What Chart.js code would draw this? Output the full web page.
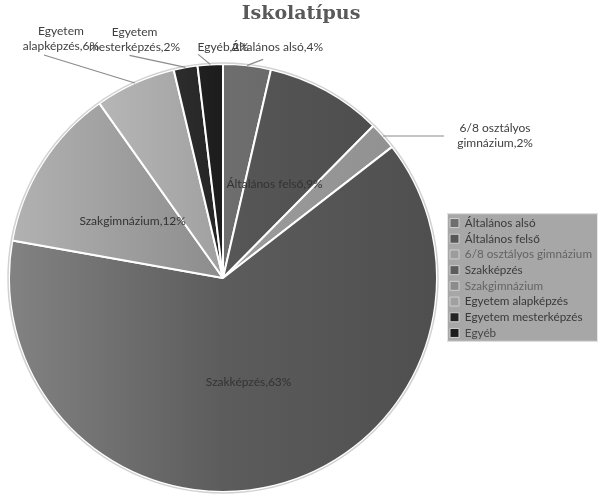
<!DOCTYPE html>
<html>
<head>
<meta charset="utf-8">
<script src="https://cdn.jsdelivr.net/npm/chart.js@4.4.1/dist/chart.umd.min.js"></script>
<style>
  html, body { margin: 0; padding: 0; background: #fff; }
</style>
</head>
<body>
<canvas id="chart" width="598" height="494"></canvas>
<script>
// data (share of pupils, %)
const categories = ['Általános alsó', 'Általános felső', '6/8 osztályos gimnázium', 'Szakképzés', 'Szakgimnázium', 'Egyetem alapképzés', 'Egyetem mesterképzés', 'Egyéb'];
const shares = [3.6, 8.8, 2.1, 63.3, 12.4, 6.1, 1.8, 1.9];
const labelLines = [['Általános alsó'], ['Általános felső'], ['6/8 osztályos', 'gimnázium'], ['Szakképzés'], ['Szakgimnázium'], ['Egyetem', 'alapképzés'], ['Egyetem', 'mesterképzés'], ['Egyéb']];
const sliceGrays = ['#6e6e6e', '#575757', '#9c9c9c', '#5c5c5c', '#8c8c8c', '#a0a0a0', '#242424', '#1c1c1c'];
const legendTextColors = ['#3a3a3a', '#3a3a3a', '#646464', '#3c3c3c', '#646464', '#383838', '#3a3a3a', '#474747'];

// small slices get their label outside with a leader line (offsets from the slice's rim point)
const outside = {
  0: { dx: 30, dy: -18, lx: 16, ly: -6 },
  2: { dx: 112, dy: 0, lx: 61, ly: 0 },
  5: { dx: -74, dy: -44, lx: -91, ly: -28 },
  6: { dx: -51, dy: -28, lx: -56, ly: -12 },
  7: { dx: 13, dy: -17, lx: -12, ly: -10 },
};

const total = shares.reduce((s, v) => s + v, 0);
const pct = i => Math.round(shares[i] / total * 100);
const FONT = 'Lato, "Liberation Sans", sans-serif';

function shade(hex, amt) {
  const n = parseInt(hex.slice(1), 16);
  const c = [n >> 16, (n >> 8) & 255, n & 255].map(v => Math.max(0, Math.min(255, v + amt)));
  return `rgb(${c[0]},${c[1]},${c[2]})`;
}

function sliceFill(ctx) {
  const base = sliceGrays[ctx.dataIndex];
  const area = ctx.chart.chartArea;
  if (!area) return base;
  const g = ctx.chart.ctx.createLinearGradient(area.left, 0, area.right, 0);
  g.addColorStop(0, shade(base, 40));
  g.addColorStop(0.5, shade(base, 0));
  g.addColorStop(1, shade(base, -14));
  return g;
}

const legendBg = {
  id: 'legendBg',
  beforeDraw(chart) {
    const boxes = chart.legend?.legendHitBoxes;
    if (!boxes || !boxes.length) return;
    const l = Math.min(...boxes.map(b => b.left)) - 3;
    const t = Math.min(...boxes.map(b => b.top)) - 4;
    const r = Math.max(...boxes.map(b => b.left + b.width)) + 6;
    const btm = Math.max(...boxes.map(b => b.top + b.height)) + 3;
    const ctx = chart.ctx;
    ctx.save();
    ctx.fillStyle = '#a7a7a7';
    ctx.fillRect(l, t, r - l, btm - t);
    ctx.strokeStyle = '#e6e6e6';
    ctx.lineWidth = 1;
    ctx.strokeRect(l + 0.5, t + 0.5, r - l - 1, btm - t - 1);
    ctx.restore();
  },
};

const sliceLabels = {
  id: 'sliceLabels',
  afterDatasetsDraw(chart) {
    const ctx = chart.ctx;
    const arcs = chart.getDatasetMeta(0).data;
    // thin light rim round the pie
    const a0 = arcs[0];
    ctx.save();
    ctx.beginPath();
    ctx.arc(a0.x, a0.y, a0.outerRadius + 1, 0, Math.PI * 2);
    ctx.strokeStyle = '#d2d2d2';
    ctx.lineWidth = 1.5;
    ctx.stroke();

    ctx.font = `12px ${FONT}`;
    ctx.textAlign = 'center';
    ctx.textBaseline = 'middle';
    arcs.forEach((arc, i) => {
      const mid = (arc.startAngle + arc.endAngle) / 2;
      const lines = labelLines[i].slice();
      lines[lines.length - 1] += ',' + pct(i) + '%';
      const o = outside[i];
      if (!o) {
        const r = arc.outerRadius * 0.5;
        ctx.fillStyle = '#333';
        ctx.fillText(lines[0], arc.x + Math.cos(mid) * r, arc.y + Math.sin(mid) * r);
        return;
      }
      const ex = arc.x + Math.cos(mid) * arc.outerRadius;
      const ey = arc.y + Math.sin(mid) * arc.outerRadius;
      ctx.beginPath();
      ctx.moveTo(ex, ey);
      ctx.lineTo(ex + o.lx, ey + o.ly);
      ctx.strokeStyle = '#8c8c8c';
      ctx.lineWidth = 1.2;
      ctx.stroke();
      ctx.fillStyle = '#404040';
      const cx = ex + o.dx, cy = ey + o.dy;
      const lh = 15;
      lines.forEach((ln, k) => ctx.fillText(ln, cx, cy + (k - (lines.length - 1) / 2) * lh));
    });
    ctx.restore();
  },
};

new Chart(document.getElementById('chart'), {
  type: 'pie',
  data: {
    labels: categories,
    datasets: [{
      data: shares,
      backgroundColor: sliceFill,
      borderColor: '#ffffff',
      borderWidth: 2,
    }],
  },
  options: {
    responsive: false,
    animation: false,
    layout: { padding: { left: 0, right: -4, top: 0, bottom: 1 } },
    plugins: {
      title: {
        display: true,
        text: 'Iskolatípus',
        color: '#595959',
        font: { family: '"DejaVu Serif", serif', size: 19, weight: 'bold' },
        padding: { top: 3, bottom: 37.2 },
      },
      legend: {
        position: 'right',
        fullSize: false,
        labels: {
          color: '#444',
          font: { family: FONT, size: 11.7 },
          boxWidth: 9,
          boxHeight: 9,
          padding: 4,
          generateLabels(chart) {
            return categories.map((c, i) => ({
              text: c,
              fillStyle: sliceGrays[i],
              strokeStyle: '#cfcfcf',
              fontColor: legendTextColors[i],
              lineWidth: 1,
              index: i,
              hidden: false,
            }));
          },
        },
      },
      tooltip: { enabled: false },
    },
  },
  plugins: [legendBg, sliceLabels],
});
</script>
</body>
</html>
